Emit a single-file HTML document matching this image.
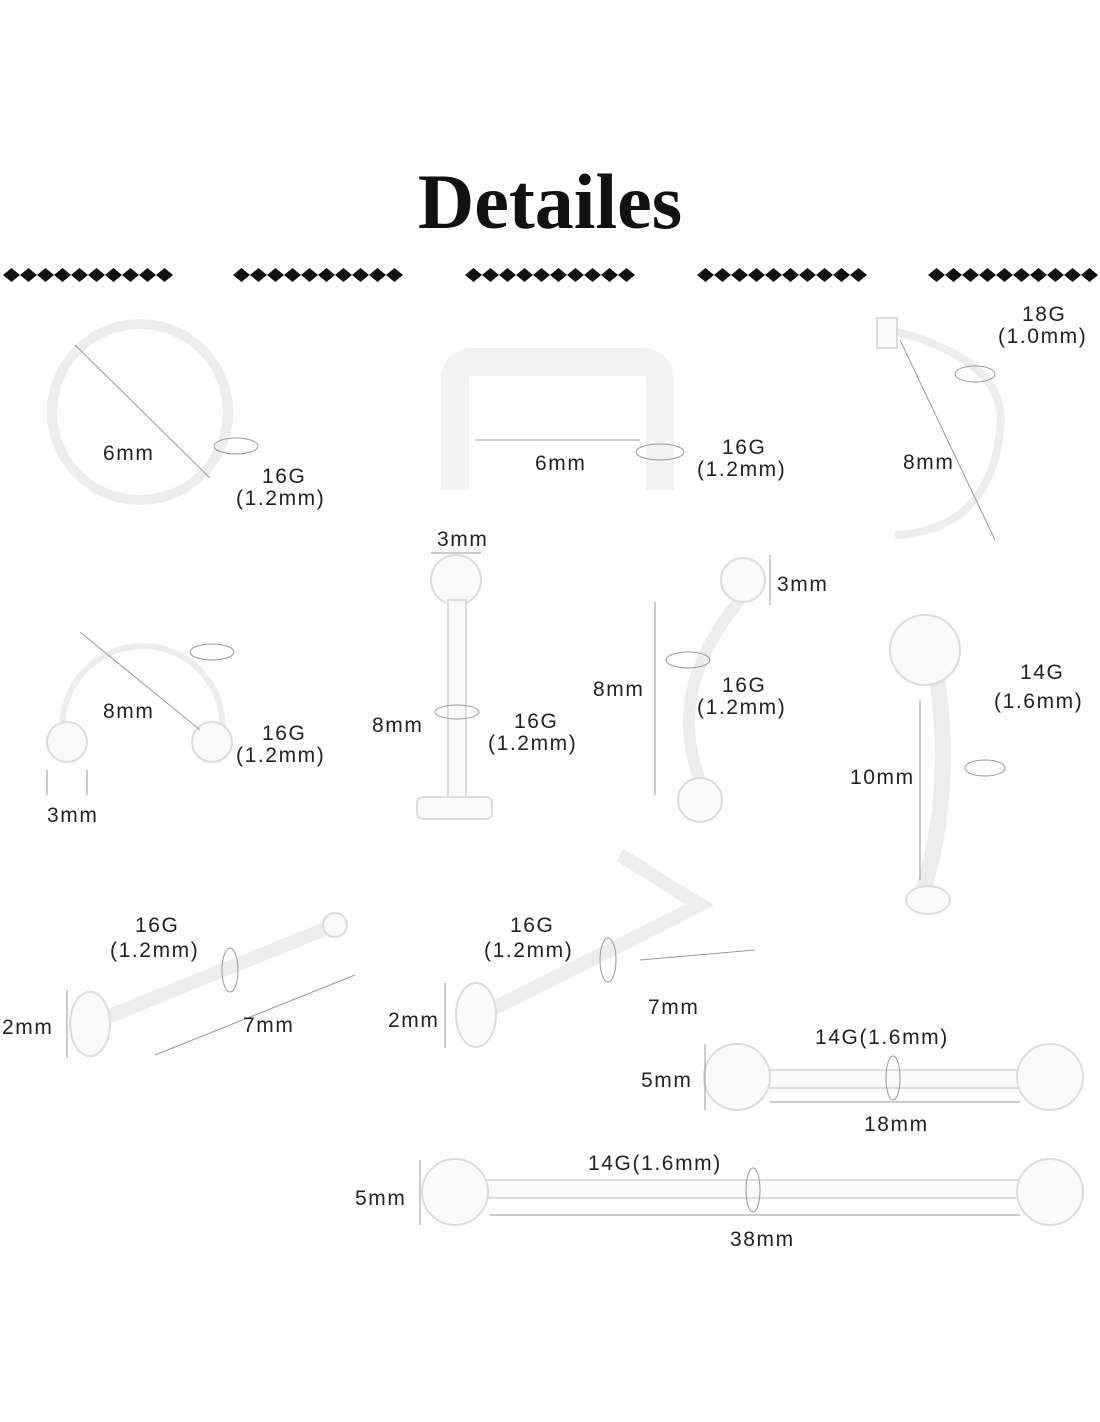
<!DOCTYPE html>
<html><head><meta charset="utf-8">
<style>
html,body{margin:0;padding:0;background:#fff;}
svg{display:block;}
.t{font-family:"Liberation Sans",sans-serif;font-size:21px;fill:#222;letter-spacing:1.6px;}
.p{fill:none;stroke:#ededed;}
.pf{fill:#fafafa;stroke:#dcdcdc;stroke-width:2;}
.d{fill:none;stroke:#999;stroke-width:1;}
</style></head><body>
<svg width="1100" height="1422" viewBox="0 0 1100 1422" xmlns="http://www.w3.org/2000/svg">
<text x="550" y="228" text-anchor="middle" font-family="Liberation Serif,serif" font-weight="bold" font-size="78" fill="#111">Detailes</text>
<g fill="#111" id="dia">
</g>
<script>
var g=document.getElementById('dia');var starts=[3,233,465,697,928];
starts.forEach(function(s){for(var i=0;i<10;i++){var cx=s+8.5+i*17;var p=document.createElementNS('http://www.w3.org/2000/svg','polygon');p.setAttribute('points',(cx-8.5)+',275 '+cx+',268 '+(cx+8.5)+',275 '+cx+',282');g.appendChild(p);}});
</script>
<circle class="p" cx="140" cy="412" r="88" style="stroke-width:10"/>
<line class="d" x1="75" y1="345" x2="210" y2="478"/>
<ellipse class="d" cx="236" cy="446" rx="22" ry="8"/>
<path class="p" style="stroke-width:28;stroke:#f3f3f3" d="M455 490 V380 Q455 362 475 362 H640 Q660 362 660 380 V490"/>
<line class="d" x1="475" y1="440" x2="640" y2="440"/>
<ellipse class="d" cx="660" cy="452" rx="24" ry="8"/>
<path class="p" d="M890 330 Q1010 360 1000 430 Q990 530 895 535" style="stroke-width:8"/>
<rect class="pf" x="877" y="318" width="20" height="30"/>
<line class="d" x1="900" y1="340" x2="995" y2="540"/>
<ellipse class="d" cx="975" cy="374" rx="20" ry="8"/>
<path class="p" d="M70 760 A80 80 0 1 1 215 760" style="stroke-width:6"/>
<circle class="pf" cx="67" cy="742" r="20"/><circle class="pf" cx="212" cy="742" r="20"/>
<line class="d" x1="80" y1="632" x2="200" y2="730"/>
<ellipse class="d" cx="212" cy="652" rx="22" ry="8"/>
<line class="d" x1="47" y1="770" x2="47" y2="795"/><line class="d" x1="87" y1="770" x2="87" y2="795"/>
<circle class="pf" cx="456" cy="580" r="25"/>
<rect class="pf" x="448" y="600" width="18" height="200"/>
<rect class="pf" x="417" y="797" width="75" height="22" rx="6"/>
<line class="d" x1="431" y1="553" x2="481" y2="553"/>
<ellipse class="d" cx="457" cy="712" rx="22" ry="7"/>
<path class="p" d="M740 600 Q665 690 700 780" style="stroke-width:12"/>
<circle class="pf" cx="743" cy="580" r="22"/><circle class="pf" cx="700" cy="800" r="22"/>
<line class="d" x1="655" y1="602" x2="655" y2="795"/>
<line class="d" x1="770" y1="555" x2="770" y2="605"/>
<ellipse class="d" cx="688" cy="660" rx="22" ry="8"/>
<path class="p" d="M930 640 Q960 780 920 900" style="stroke-width:16"/>
<ellipse class="pf" cx="925" cy="650" rx="35" ry="35"/>
<ellipse class="pf" cx="928" cy="900" rx="22" ry="14"/>
<line class="d" x1="920" y1="700" x2="920" y2="880"/>
<ellipse class="d" cx="985" cy="768" rx="20" ry="8"/>
<path class="p" d="M100 1020 L335 925" style="stroke-width:14"/>
<circle class="pf" cx="335" cy="925" r="12"/>
<ellipse class="pf" cx="90" cy="1024" rx="20" ry="32"/>
<line class="d" x1="67" y1="990" x2="67" y2="1058"/>
<line class="d" x1="155" y1="1055" x2="355" y2="975"/>
<ellipse class="d" cx="230" cy="970" rx="8" ry="22"/>
<path class="p" d="M480 1015 L700 905 L620 855" style="stroke-width:14"/>
<ellipse class="pf" cx="476" cy="1015" rx="20" ry="32"/>
<line class="d" x1="445" y1="983" x2="445" y2="1048"/>
<line class="d" x1="640" y1="960" x2="755" y2="950"/>
<ellipse class="d" cx="608" cy="960" rx="8" ry="22"/>
<rect class="pf" x="760" y="1070" width="270" height="18"/>
<circle class="pf" cx="737" cy="1077" r="33"/><circle class="pf" cx="1050" cy="1077" r="33"/>
<line class="d" x1="705" y1="1044" x2="705" y2="1110"/>
<line class="d" x1="770" y1="1102" x2="1020" y2="1102"/>
<ellipse class="d" cx="893" cy="1078" rx="7" ry="22"/>
<rect class="pf" x="480" y="1180" width="545" height="18"/>
<circle class="pf" cx="455" cy="1192" r="33"/><circle class="pf" cx="1050" cy="1192" r="33"/>
<line class="d" x1="420" y1="1160" x2="420" y2="1225"/>
<line class="d" x1="490" y1="1215" x2="1020" y2="1215"/>
<ellipse class="d" cx="753" cy="1190" rx="7" ry="22"/>
<text class="t" x="103" y="460">6mm</text>
<text class="t" x="262" y="483">16G</text><text class="t" x="236" y="505">(1.2mm)</text>
<text class="t" x="535" y="470">6mm</text>
<text class="t" x="722" y="454">16G</text><text class="t" x="697" y="476">(1.2mm)</text>
<text class="t" x="1022" y="321">18G</text><text class="t" x="998" y="343">(1.0mm)</text>
<text class="t" x="903" y="469">8mm</text>
<text class="t" x="437" y="546">3mm</text>
<text class="t" x="777" y="591">3mm</text>
<text class="t" x="103" y="718">8mm</text>
<text class="t" x="262" y="740">16G</text><text class="t" x="236" y="762">(1.2mm)</text>
<text class="t" x="47" y="822">3mm</text>
<text class="t" x="372" y="732">8mm</text>
<text class="t" x="514" y="728">16G</text><text class="t" x="488" y="750">(1.2mm)</text>
<text class="t" x="593" y="696">8mm</text>
<text class="t" x="722" y="692">16G</text><text class="t" x="697" y="714">(1.2mm)</text>
<text class="t" x="1020" y="679">14G</text><text class="t" x="994" y="708">(1.6mm)</text>
<text class="t" x="850" y="784">10mm</text>
<text class="t" x="135" y="932">16G</text><text class="t" x="110" y="957">(1.2mm)</text>
<text class="t" x="510" y="932">16G</text><text class="t" x="484" y="957">(1.2mm)</text>
<text class="t" x="2" y="1034">2mm</text>
<text class="t" x="243" y="1032">7mm</text>
<text class="t" x="388" y="1027">2mm</text>
<text class="t" x="648" y="1014">7mm</text>
<text class="t" x="815" y="1044">14G(1.6mm)</text>
<text class="t" x="641" y="1087">5mm</text>
<text class="t" x="864" y="1131">18mm</text>
<text class="t" x="588" y="1170">14G(1.6mm)</text>
<text class="t" x="355" y="1205">5mm</text>
<text class="t" x="730" y="1246">38mm</text>
</svg>
</body></html>
